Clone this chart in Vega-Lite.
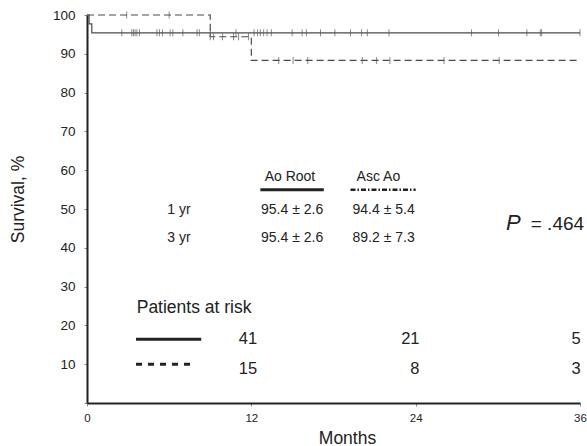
{
  "$schema": "https://vega.github.io/schema/vega-lite/v6.json",
  "width": 493,
  "height": 388,
  "autosize": {"type": "none"},
  "padding": {"left": 87, "top": 15, "right": 7, "bottom": 43},
  "background": "white",
  "config": {
    "view": {"stroke": null},
    "font": "Liberation Sans",
    "text": {"font": "Liberation Sans", "color": "#222"}
  },
  "datasets": {
    "curves": [
      {"series": "Ao Root", "x": 0, "y": 100},
      {"series": "Ao Root", "x": 0.15, "y": 97.7},
      {"series": "Ao Root", "x": 0.35, "y": 95.4},
      {"series": "Ao Root", "x": 36, "y": 95.4},
      {"series": "Asc Ao", "x": 0, "y": 100},
      {"series": "Asc Ao", "x": 9.0, "y": 94.4},
      {"series": "Asc Ao", "x": 12.0, "y": 88.3},
      {"series": "Asc Ao", "x": 36, "y": 88.3}
    ],
    "censors": [
      {"series": "Ao Root", "x": 2.54, "y": 95.4},
      {"series": "Ao Root", "x": 3.27, "y": 95.4},
      {"series": "Ao Root", "x": 3.39, "y": 95.4},
      {"series": "Ao Root", "x": 3.51, "y": 95.4},
      {"series": "Ao Root", "x": 3.64, "y": 95.4},
      {"series": "Ao Root", "x": 3.83, "y": 95.4},
      {"series": "Ao Root", "x": 5.10, "y": 95.4},
      {"series": "Ao Root", "x": 5.29, "y": 95.4},
      {"series": "Ao Root", "x": 5.51, "y": 95.4},
      {"series": "Ao Root", "x": 6.07, "y": 95.4},
      {"series": "Ao Root", "x": 6.27, "y": 95.4},
      {"series": "Ao Root", "x": 7.0, "y": 95.4},
      {"series": "Ao Root", "x": 8.03, "y": 95.4},
      {"series": "Ao Root", "x": 8.2, "y": 95.4},
      {"series": "Ao Root", "x": 9.0, "y": 95.4},
      {"series": "Ao Root", "x": 10.88, "y": 95.4},
      {"series": "Ao Root", "x": 12.2, "y": 95.4},
      {"series": "Ao Root", "x": 12.46, "y": 95.4},
      {"series": "Ao Root", "x": 12.66, "y": 95.4},
      {"series": "Ao Root", "x": 12.9, "y": 95.4},
      {"series": "Ao Root", "x": 13.15, "y": 95.4},
      {"series": "Ao Root", "x": 13.46, "y": 95.4},
      {"series": "Ao Root", "x": 14.98, "y": 95.4},
      {"series": "Ao Root", "x": 15.71, "y": 95.4},
      {"series": "Ao Root", "x": 16.02, "y": 95.4},
      {"series": "Ao Root", "x": 17.05, "y": 95.4},
      {"series": "Ao Root", "x": 18.1, "y": 95.4},
      {"series": "Ao Root", "x": 19.24, "y": 95.4},
      {"series": "Ao Root", "x": 20.05, "y": 95.4},
      {"series": "Ao Root", "x": 20.47, "y": 95.4},
      {"series": "Ao Root", "x": 22.05, "y": 95.4},
      {"series": "Ao Root", "x": 28.08, "y": 95.4},
      {"series": "Ao Root", "x": 30.05, "y": 95.4},
      {"series": "Ao Root", "x": 32.12, "y": 95.4},
      {"series": "Ao Root", "x": 33.1, "y": 95.4},
      {"series": "Ao Root", "x": 33.2, "y": 95.4},
      {"series": "Ao Root", "x": 36.0, "y": 95.4},
      {"series": "Asc Ao", "x": 2.9, "y": 100},
      {"series": "Asc Ao", "x": 6.0, "y": 100},
      {"series": "Asc Ao", "x": 9.0, "y": 94.4},
      {"series": "Asc Ao", "x": 9.24, "y": 94.4},
      {"series": "Asc Ao", "x": 9.9, "y": 94.4},
      {"series": "Asc Ao", "x": 10.7, "y": 94.4},
      {"series": "Asc Ao", "x": 11.07, "y": 94.4},
      {"series": "Asc Ao", "x": 11.8, "y": 94.4},
      {"series": "Asc Ao", "x": 14.0, "y": 88.3},
      {"series": "Asc Ao", "x": 15.05, "y": 88.3},
      {"series": "Asc Ao", "x": 16.12, "y": 88.3},
      {"series": "Asc Ao", "x": 20.1, "y": 88.3},
      {"series": "Asc Ao", "x": 21.15, "y": 88.3},
      {"series": "Asc Ao", "x": 22.12, "y": 88.3},
      {"series": "Asc Ao", "x": 26.07, "y": 88.3},
      {"series": "Asc Ao", "x": 30.1, "y": 88.3}
    ],
    "tableText": [
      {"label": "Ao Root", "x": 14.82, "y": 57.2},
      {"label": "Asc Ao", "x": 21.28, "y": 57.2},
      {"label": "1 yr", "x": 6.72, "y": 48.8},
      {"label": "3 yr", "x": 6.72, "y": 41.4},
      {"label": "95.4 ± 2.6", "x": 14.98, "y": 48.8},
      {"label": "95.4 ± 2.6", "x": 14.98, "y": 41.4},
      {"label": "94.4 ± 5.4", "x": 21.66, "y": 48.8},
      {"label": "89.2 ± 7.3", "x": 21.66, "y": 41.4}
    ],
    "riskTitle": [
      {"label": "Patients at risk", "x": 3.63, "y": 23.3}
    ],
    "riskNumbers": [
      {"label": "41", "x": 12.43, "y": 15.25},
      {"label": "21", "x": 24.28, "y": 15.25},
      {"label": "5", "x": 36.05, "y": 15.25},
      {"label": "15", "x": 12.43, "y": 7.6},
      {"label": "8", "x": 24.28, "y": 7.6},
      {"label": "3", "x": 36.05, "y": 7.6}
    ],
    "pLetter": [{"label": "P", "x": 30.6, "y": 44.7}],
    "pValue": [{"label": "= .464", "x": 36.3, "y": 44.7}],
    "keyLines": [
      {"key": "rootUnder", "x": 12.66, "x2": 17.29, "y": 54.96},
      {"key": "ascUnder", "x": 19.24, "x2": 24.0, "y": 54.96},
      {"key": "riskSolid", "x": 3.58, "x2": 8.34, "y": 16.45},
      {"key": "riskDashed", "x": 3.58, "x2": 7.66, "y": 10.0}
    ]
  },
  "encoding": {
    "x": {
      "field": "x", "type": "quantitative",
      "scale": {"domain": [0, 36], "nice": false, "zero": false},
      "axis": {
        "values": [0, 12, 24, 36], "format": "d", "grid": false,
        "labelFontSize": 11.5, "labelColor": "#222", "labelPadding": 15.5, "labelBaseline": "alphabetic",
        "labelFont": "Liberation Sans", "labelFlush": false,
        "tickSize": 3, "tickColor": "#888", "domainColor": "#222", "domainWidth": 2,
        "title": "Months", "titleFont": "Liberation Sans", "titleFontSize": 17.5, "titleFontWeight": "normal",
        "titleColor": "#222", "titleX": 260, "titleY": 40, "titleBaseline": "alphabetic", "titleAlign": "center"
      }
    },
    "y": {
      "field": "y", "type": "quantitative",
      "scale": {"domain": [0, 100], "nice": false},
      "axis": {
        "values": [0, 10, 20, 30, 40, 50, 60, 70, 80, 90, 100], "grid": false,
        "labelExpr": "datum.value == 0 ? '' : datum.label",
        "labelFontSize": 13.5, "labelColor": "#222", "labelPadding": 9, "labelFont": "Liberation Sans",
        "labelBaseline": "middle", "labelFlush": false,
        "tickSize": 3, "tickColor": "#888", "domainColor": "#222", "domainWidth": 2,
        "title": "Survival, %", "titleFont": "Liberation Sans", "titleFontSize": 17.5, "titleFontWeight": "normal",
        "titleColor": "#222", "titleX": -69, "titleY": 184, "titleAngle": -90, "titleAlign": "center", "titleBaseline": "middle"
      }
    }
  },
  "layer": [
    {
      "data": {"name": "curves"},
      "mark": {"type": "line", "interpolate": "step-after", "color": "#4a4a4a", "strokeWidth": 1.2},
      "encoding": {
        "detail": {"field": "series", "type": "nominal"},
        "strokeDash": {
          "field": "series", "type": "nominal",
          "scale": {"domain": ["Ao Root", "Asc Ao"], "range": [[1, 0], [7, 4]]},
          "legend": null
        }
      }
    },
    {
      "data": {"name": "censors"},
      "mark": {"type": "tick", "orient": "vertical", "size": 7, "thickness": 1, "color": "#555"},
      "encoding": {}
    },
    {
      "data": {"name": "keyLines"},
      "transform": [{"filter": "datum.key == 'rootUnder' || datum.key == 'riskSolid'"}],
      "mark": {"type": "rule", "color": "#222", "strokeWidth": 3},
      "encoding": {"x2": {"field": "x2"}}
    },
    {
      "data": {"name": "keyLines"},
      "transform": [{"filter": "datum.key == 'ascUnder'"}],
      "mark": {"type": "rule", "color": "#222", "strokeWidth": 2.5, "strokeDash": [5, 2, 1.5, 2]},
      "encoding": {"x2": {"field": "x2"}}
    },
    {
      "data": {"name": "keyLines"},
      "transform": [{"filter": "datum.key == 'riskDashed'"}],
      "mark": {"type": "rule", "color": "#222", "strokeWidth": 3, "strokeDash": [6, 6]},
      "encoding": {"x2": {"field": "x2"}}
    },
    {
      "data": {"name": "tableText"},
      "mark": {"type": "text", "fontSize": 14, "align": "center", "baseline": "alphabetic", "color": "#222"},
      "encoding": {"text": {"field": "label"}}
    },
    {
      "data": {"name": "riskTitle"},
      "mark": {"type": "text", "fontSize": 17.5, "align": "left", "baseline": "alphabetic", "color": "#222"},
      "encoding": {"text": {"field": "label"}}
    },
    {
      "data": {"name": "riskNumbers"},
      "mark": {"type": "text", "fontSize": 16.5, "align": "right", "baseline": "alphabetic", "color": "#222"},
      "encoding": {"text": {"field": "label"}}
    },
    {
      "data": {"name": "pLetter"},
      "mark": {"type": "text", "fontSize": 22, "fontStyle": "italic", "align": "left", "baseline": "alphabetic", "color": "#222"},
      "encoding": {"text": {"field": "label"}}
    },
    {
      "data": {"name": "pValue"},
      "mark": {"type": "text", "fontSize": 19, "align": "right", "baseline": "alphabetic", "color": "#222"},
      "encoding": {"text": {"field": "label"}}
    }
  ]
}
